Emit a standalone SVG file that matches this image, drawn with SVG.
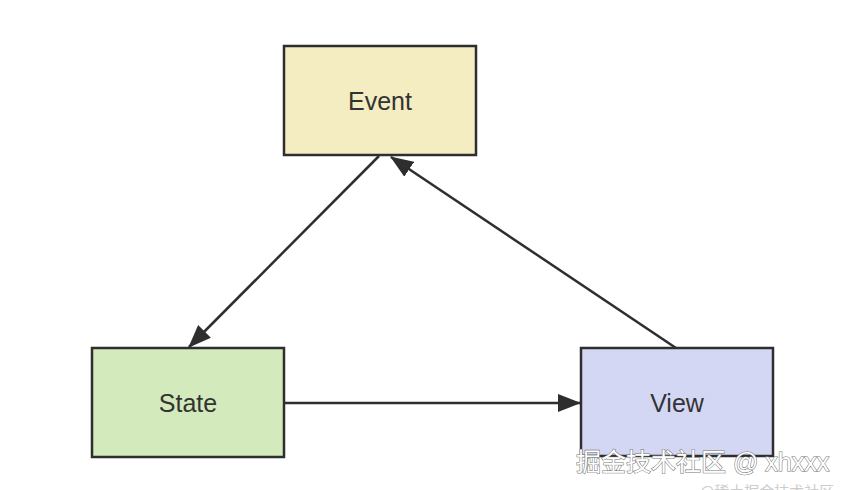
<svg xmlns="http://www.w3.org/2000/svg" width="846" height="490" viewBox="0 0 846 490">
<style>
.box{stroke:#2e2e2e;stroke-width:2.5}
.lbl{font-family:"Liberation Sans",Arial,sans-serif;font-size:25px;fill:#333;text-anchor:middle;dominant-baseline:central}
.edge{stroke:#2e2e2e;stroke-width:2.5;fill:none;marker-end:url(#ah)}
.wm{font-family:"Liberation Sans","Noto Sans CJK SC",sans-serif;font-size:25px;fill:#fff;stroke:#777;stroke-width:1.1;paint-order:stroke}
</style>
<defs>
<marker id="ah" markerWidth="23" markerHeight="18" refX="22" refY="9" orient="auto" markerUnits="userSpaceOnUse">
<path d="M0,0 L23,9 L0,18 Z" fill="#2e2e2e"/>
</marker>
</defs>
<rect width="846" height="490" fill="#fff"/>
<g id="connectors">
<line class="edge" x1="379" y1="156" x2="189" y2="347"/>
<line class="edge" x1="676" y1="348" x2="391" y2="157"/>
<line class="edge" x1="285" y1="403" x2="580" y2="403"/>
</g>
<g id="event">
<rect class="box" x="284" y="46" width="192" height="109" fill="#f4edc1"/>
<text class="lbl" x="380" y="101">Event</text>
</g>
<g id="state">
<rect class="box" x="92" y="348" width="192" height="109" fill="#d2eabc"/>
<text class="lbl" x="188" y="403">State</text>
</g>
<g id="view">
<rect class="box" x="581" y="348" width="192" height="108" fill="#d4d7f4"/>
<text class="lbl" x="677" y="403">View</text>
</g>
<text class="wm" x="576" y="471">掘金技术社区 @ xhxxx</text>
<text x="700" y="497" font-family="'Noto Sans CJK SC',sans-serif" font-size="15" fill="#ccc">@稀土掘金技术社区</text>
</svg>
